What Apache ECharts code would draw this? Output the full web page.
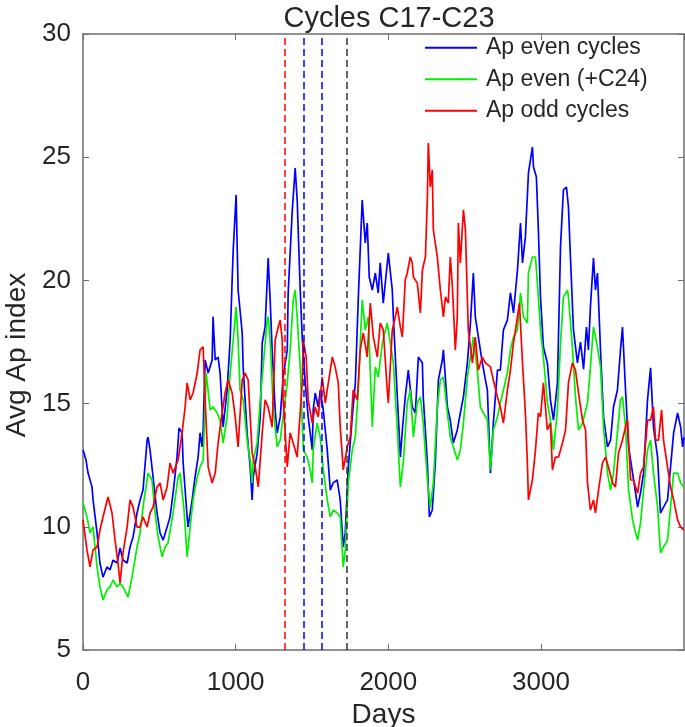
<!DOCTYPE html>
<html>
<head>
<meta charset="utf-8">
<script src="https://cdn.jsdelivr.net/npm/echarts@6/dist/echarts.min.js"></script>
<style>
html,body{margin:0;padding:0;background:#fff;}
#chart{width:685px;height:727px;}
</style>
</head>
<body>
<div id="chart"></div>
<script>
const titleText = 'Cycles C17-C23';
const xName = 'Days';
const yName = 'Avg Ap index';
const seriesNames = ['Ap even cycles', 'Ap even (+C24)', 'Ap odd cycles'];
const markerDays = [1320, 1443, 1567, 1725];
const xTicks = [0, 1000, 2000, 3000];
const yTicks = [5, 10, 15, 20, 25, 30];

const blueEven = [[0,13.12],[20,12.71],[33,12.18],[59,11.62],[66,11.09],[92,9.75],[111,8.53],[131,7.96],[157,8.37],[177,8.25],[197,8.65],[223,8.53],[243,9.14],[262,8.65],[289,8.53],[308,9.18],[328,9.59],[354,10.56],[374,11.09],[393,11.49],[420,13.52],[426,13.64],[439,13.12],[459,12.02],[485,10.56],[505,9.75],[525,9.46],[551,9.99],[570,10.40],[590,11.37],[616,12.83],[629,14.01],[649,13.81],[656,12.59],[682,10.40],[688,9.99],[715,11.09],[734,12.02],[754,12.83],[767,13.81],[780,13.24],[787,13.93],[800,16.77],[820,16.24],[846,16.77],[852,18.52],[866,16.77],[885,16.89],[898,16.24],[918,14.05],[944,15.55],[964,17.58],[977,20.02],[984,21.23],[1003,23.47],[1016,19.61],[1043,17.87],[1049,16.49],[1075,13.81],[1095,12.43],[1108,11.09],[1115,12.02],[1141,13.00],[1161,14.46],[1174,17.46],[1193,18.11],[1213,20.91],[1226,19.21],[1239,17.18],[1259,14.74],[1272,13.81],[1292,14.46],[1311,16.08],[1338,17.18],[1344,19.49],[1357,21.11],[1370,22.74],[1390,24.56],[1403,23.26],[1423,19.61],[1436,17.70],[1456,15.84],[1475,14.46],[1502,13.12],[1508,14.74],[1521,15.43],[1541,14.86],[1554,15.55],[1574,14.74],[1600,13.12],[1620,11.49],[1639,11.78],[1665,11.90],[1685,11.09],[1705,9.18],[1718,9.75],[1738,12.43],[1764,14.46],[1784,15.84],[1803,19.21],[1829,23.26],[1849,21.52],[1862,22.33],[1875,20.14],[1895,19.61],[1915,20.30],[1934,19.49],[1947,20.71],[1967,19.08],[2000,21.11],[2026,19.61],[2033,18.52],[2059,15.27],[2079,12.83],[2092,13.93],[2111,15.27],[2131,16.36],[2157,14.86],[2177,14.62],[2197,16.89],[2223,16.65],[2229,15.27],[2256,12.59],[2269,10.40],[2288,10.68],[2308,12.59],[2328,15.96],[2354,16.77],[2361,17.18],[2387,14.86],[2406,14.33],[2426,13.40],[2452,13.93],[2472,14.62],[2492,15.27],[2518,16.65],[2538,18.27],[2557,20.30],[2570,18.52],[2590,17.70],[2616,16.65],[2636,15.96],[2649,15.55],[2669,12.18],[2688,14.21],[2715,16.36],[2734,16.36],[2754,17.99],[2780,18.39],[2800,19.49],[2820,18.68],[2846,20.42],[2866,22.33],[2879,20.71],[2898,21.76],[2918,24.36],[2944,25.41],[2951,24.60],[2970,24.20],[2983,22.05],[2997,19.33],[3016,17.30],[3042,16.65],[3062,15.15],[3082,14.33],[3108,15.84],[3128,21.36],[3147,23.67],[3167,23.79],[3180,22.98],[3193,20.95],[3213,17.99],[3239,16.65],[3259,17.5],[3279,16.4],[3298,18.11],[3311,17.18],[3324,18.92],[3344,20.91],[3357,19.61],[3370,20.30],[3390,17.18],[3410,14.46],[3436,13.24],[3456,13.52],[3475,14.86],[3501,15.55],[3521,17.18],[3534,18.11],[3554,15.55],[3574,13.24],[3600,12.18],[3620,11.37],[3633,10.80],[3652,11.37],[3672,12.18],[3698,15.15],[3718,16.45],[3737,14.05],[3764,12.83],[3783,10.56],[3803,10.80],[3829,11.09],[3849,12.43],[3869,13.81],[3895,14.62],[3915,14.05],[3928,13.24],[3937,13.64]];

const greenEven = [[0,10.97],[26,10.40],[46,9.75],[66,9.99],[92,8.37],[111,7.56],[131,7.03],[157,7.44],[177,7.56],[197,7.84],[223,7.56],[243,7.72],[262,7.56],[295,7.15],[321,7.96],[354,9.18],[374,9.75],[393,10.80],[426,12.18],[452,11.90],[472,10.56],[492,9.59],[518,8.78],[538,9.18],[557,9.34],[590,10.56],[623,12.02],[636,12.18],[662,10.68],[682,8.78],[702,9.99],[721,11.09],[748,12.02],[767,12.43],[787,12.71],[807,16.24],[833,14.74],[852,14.86],[879,14.62],[898,14.33],[918,13.40],[944,14.46],[964,16.24],[984,17.58],[1003,18.92],[1016,17.58],[1029,15.55],[1049,15.15],[1075,13.52],[1095,12.71],[1108,11.78],[1115,12.71],[1141,13.40],[1161,15.15],[1180,16.49],[1206,18.39],[1213,18.52],[1226,17.58],[1246,14.86],[1272,13.24],[1292,13.52],[1311,14.46],[1338,15.84],[1357,17.18],[1377,19.21],[1390,19.61],[1403,18.52],[1423,16.49],[1443,13.12],[1469,12.83],[1488,12.31],[1502,11.78],[1508,13.12],[1534,14.21],[1554,13.65],[1574,12.31],[1600,11.09],[1620,10.40],[1639,10.68],[1665,10.56],[1685,10.40],[1705,8.37],[1718,9.06],[1738,11.78],[1764,13.12],[1784,13.65],[1803,15.55],[1829,19.21],[1849,17.99],[1869,18.52],[1895,14.05],[1915,16.49],[1934,16.08],[1961,17.46],[1993,18.27],[2013,17.46],[2033,16.65],[2059,13.93],[2079,11.62],[2098,12.59],[2124,15.03],[2144,15.55],[2164,13.65],[2190,15.03],[2210,15.27],[2229,14.21],[2256,11.90],[2275,10.80],[2295,11.78],[2321,14.86],[2341,15.96],[2361,16.08],[2387,14.62],[2406,13.65],[2426,13.24],[2452,12.71],[2472,13.12],[2492,14.21],[2518,16.08],[2538,16.89],[2557,17.70],[2583,16.36],[2603,14.86],[2623,14.62],[2649,14.33],[2669,12.31],[2688,13.93],[2715,14.46],[2734,15.03],[2754,15.55],[2780,16.24],[2800,17.18],[2820,17.70],[2846,17.99],[2866,19.49],[2885,18.52],[2911,18.27],[2918,20.30],[2944,20.95],[2964,20.95],[2983,19.33],[2997,17.99],[3016,16.89],[3042,15.03],[3062,14.33],[3082,13.12],[3108,14.74],[3128,17.46],[3147,19.33],[3174,19.61],[3180,19.33],[3206,17.30],[3226,15.27],[3246,13.93],[3272,14.21],[3305,15.03],[3324,16.49],[3344,18.11],[3370,17.30],[3390,16.49],[3410,14.05],[3436,12.18],[3456,11.49],[3475,12.18],[3501,13.81],[3521,15.15],[3534,15.27],[3554,14.05],[3574,11.49],[3600,10.28],[3620,9.75],[3633,9.46],[3652,10.15],[3672,11.49],[3698,13.12],[3718,13.52],[3737,12.18],[3764,10.80],[3783,8.94],[3803,9.18],[3829,9.46],[3849,10.80],[3869,12.18],[3895,12.18],[3915,11.78],[3937,11.59]];

const redOdd = [[0,10.28],[26,9.06],[46,8.37],[66,9.06],[92,9.18],[111,9.87],[131,10.40],[164,11.21],[190,10.56],[210,9.46],[229,8.53],[243,7.72],[262,8.94],[289,9.99],[308,11.09],[328,10.80],[354,9.99],[374,9.99],[393,10.40],[420,9.99],[439,10.56],[459,10.80],[485,11.62],[505,11.78],[525,11.09],[551,11.62],[570,12.59],[590,12.18],[623,12.71],[649,13.81],[669,14.86],[682,15.84],[702,15.15],[721,15.43],[748,16.24],[767,17.18],[787,17.30],[800,15.15],[820,12.43],[846,11.78],[866,12.18],[885,13.40],[911,14.62],[931,15.43],[951,15.96],[977,15.43],[997,14.46],[1016,13.24],[1043,15.96],[1062,16.24],[1082,15.96],[1108,13.00],[1128,12.43],[1148,11.62],[1174,13.81],[1193,15.15],[1213,14.86],[1239,14.05],[1259,17.58],[1279,18.11],[1292,18.39],[1305,17.58],[1311,15.15],[1338,12.43],[1357,13.81],[1377,13.40],[1403,12.83],[1436,15.84],[1443,17.58],[1462,16.89],[1475,15.15],[1502,14.21],[1521,14.86],[1541,14.46],[1567,16.08],[1587,15.03],[1607,15.84],[1633,16.89],[1652,16.49],[1672,15.84],[1685,14.05],[1705,12.31],[1731,13.24],[1751,13.65],[1770,15.55],[1797,15.15],[1816,17.18],[1836,17.87],[1862,16.89],[1882,19.08],[1902,17.70],[1928,16.89],[1947,18.27],[1967,17.99],[1993,15.55],[2000,15.03],[2026,17.99],[2046,18.52],[2059,18.92],[2079,18.11],[2092,17.70],[2111,20.02],[2124,20.30],[2144,20.95],[2157,20.71],[2164,20.14],[2190,19.89],[2210,18.68],[2223,20.42],[2243,20.95],[2256,23.38],[2262,25.58],[2275,23.79],[2288,24.48],[2295,22.05],[2321,20.95],[2341,19.61],[2361,18.52],[2374,19.33],[2393,19.08],[2406,20.95],[2420,19.73],[2439,17.18],[2452,18.52],[2459,22.33],[2472,20.71],[2492,22.86],[2505,22.05],[2524,17.99],[2551,16.65],[2570,17.70],[2590,16.36],[2616,16.89],[2636,16.65],[2669,16.49],[2688,15.96],[2715,15.27],[2734,14.86],[2754,14.21],[2780,15.55],[2800,16.36],[2820,17.46],[2846,18.52],[2859,19.08],[2879,16.65],[2898,14.62],[2911,12.59],[2918,11.09],[2944,11.90],[2964,13.12],[2983,14.62],[2997,14.46],[3016,15.84],[3042,13.93],[3062,14.21],[3075,12.31],[3095,12.83],[3115,12.83],[3141,13.40],[3161,13.93],[3180,15.84],[3206,16.65],[3226,16.36],[3246,15.43],[3272,14.33],[3292,13.93],[3305,11.78],[3324,10.68],[3344,11.09],[3357,10.56],[3377,11.49],[3403,12.59],[3423,12.83],[3442,12.43],[3469,11.78],[3488,11.62],[3508,12.99],[3534,13.52],[3554,14.05],[3567,14.33],[3587,11.90],[3606,11.90],[3633,11.37],[3652,12.18],[3672,12.43],[3698,14.33],[3718,14.33],[3737,14.86],[3751,13.52],[3770,13.52],[3790,14.74],[3803,13.52],[3829,12.43],[3849,11.62],[3869,11.09],[3895,10.28],[3915,9.99],[3937,9.87]];

const FONT = '"Liberation Sans", Arial, Helvetica, sans-serif';
const TXT = '#262626';
const AXC = '#6e6e6e';
const chart = echarts.init(document.getElementById('chart'), null, {renderer: 'canvas'});

function lineSeries(name, data, color) {
  return {
    name: name, type: 'line', data: data, symbol: 'none', showSymbol: false,
    lineStyle: {color: color, width: 1.7}, itemStyle: {color: color},
    animation: false, silent: true, z: 3
  };
}

const markerColors = ['#ff0000', '#0000ff', '#0000ff', '#333333'];

const option = {
  backgroundColor: '#ffffff',
  animation: false,
  title: {
    text: titleText, left: 384, textAlign: 'center', top: -1,
    textStyle: {fontFamily: FONT, fontSize: 29, fontWeight: 'normal', color: TXT}
  },
  grid: {left: 83, right: 1, top: 34, bottom: 77, containLabel: false, outerBoundsMode: 'none'},
  legend: {
    data: seriesNames.map(n => ({name: n, icon: 'rect'})),
    orient: 'vertical', left: 425, top: 32, padding: 0,
    itemWidth: 52, itemHeight: 2, itemGap: 0,
    textStyle: {fontFamily: FONT, fontSize: 23, color: TXT, lineHeight: 31.5, padding: [0, 0, 0, 4]},
    selectedMode: false
  },
  xAxis: [{
    type: 'value', min: 0, max: 3937, interval: 1000, position: 'bottom',
    name: xName, nameLocation: 'middle', nameGap: 46,
    nameTextStyle: {fontFamily: FONT, fontSize: 28, color: TXT},
    axisLine: {show: true, onZero: false, lineStyle: {color: AXC, width: 1.5}},
    axisTick: {show: true, inside: true, length: 6, lineStyle: {color: AXC, width: 1}},
    axisLabel: {
      fontFamily: FONT, fontSize: 26, color: TXT, margin: 20, showMaxLabel: false,
      formatter: v => (xTicks.indexOf(v) >= 0 ? String(v) : '')
    },
    splitLine: {show: false}
  }, {
    type: 'value', min: 0, max: 3937, interval: 1000, position: 'top',
    axisLine: {show: true, onZero: false, lineStyle: {color: AXC, width: 1.5}},
    axisTick: {show: true, inside: true, length: 6, lineStyle: {color: AXC, width: 1}},
    axisLabel: {show: false}, splitLine: {show: false}
  }],
  yAxis: [{
    type: 'value', min: 5, max: 30, interval: 5, position: 'left',
    name: yName, nameLocation: 'middle', nameGap: 50, nameRotate: 90,
    nameTextStyle: {fontFamily: FONT, fontSize: 28, color: TXT, padding: [0, 26, 0, 0]},
    axisLine: {show: true, onZero: false, lineStyle: {color: AXC, width: 1.5}},
    axisTick: {show: true, inside: true, length: 6, lineStyle: {color: AXC, width: 1}},
    axisLabel: {
      fontFamily: FONT, fontSize: 26, color: TXT, margin: 12,
      formatter: v => (yTicks.indexOf(v) >= 0 ? String(v) : '')
    },
    splitLine: {show: false}
  }, {
    type: 'value', min: 5, max: 30, interval: 5, position: 'right',
    axisLine: {show: true, onZero: false, lineStyle: {color: AXC, width: 1.5}},
    axisTick: {show: true, inside: true, length: 6, lineStyle: {color: AXC, width: 1}},
    axisLabel: {show: false}, splitLine: {show: false}
  }],
  series: [
    lineSeries(seriesNames[0], blueEven, '#0000ff'),
    lineSeries(seriesNames[1], greenEven, '#00f000'),
    lineSeries(seriesNames[2], redOdd, '#ff0000'),
    {
      type: 'line', data: [], silent: true, animation: false, z: 2,
      markLine: {
        silent: true, animation: false, symbol: ['none', 'none'],
        label: {show: false},
        data: markerDays.map((d, i) => ({
          xAxis: d,
          lineStyle: {color: markerColors[i], width: 1.5, type: [7, 4]}
        }))
      }
    }
  ]
};
chart.setOption(option);
</script>
</body>
</html>
